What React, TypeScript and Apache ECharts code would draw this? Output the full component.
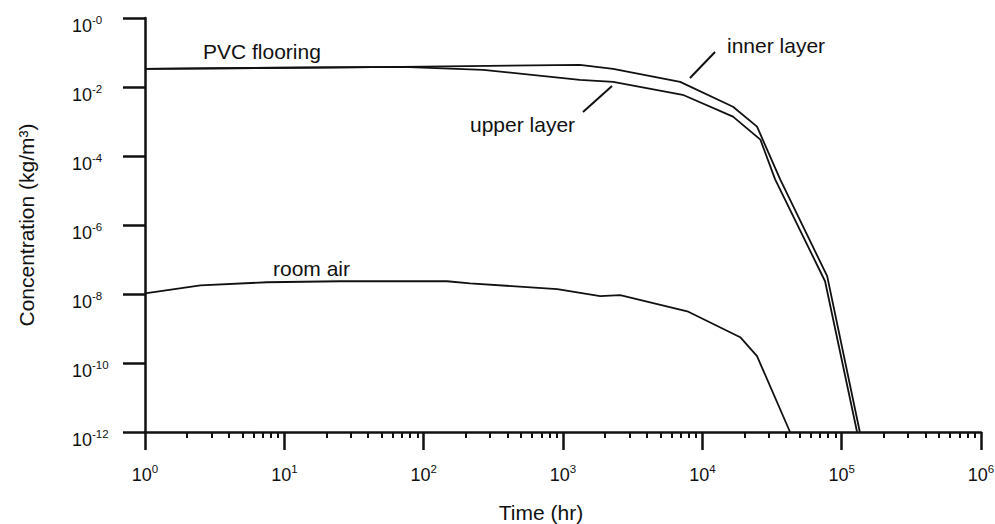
import React, { useEffect, useRef } from "react";
import * as echarts from "echarts";

// ---- data ----
const roomAirTime = [1, 2.5, 7.5, 25, 147, 215, 910, 1850, 2570, 7800, 18700, 24700, 42600];
const roomAirConc = [1.05e-8, 1.78e-8, 2.19e-8, 2.34e-8, 2.34e-8, 2.04e-8, 1.38e-8, 8.7e-9, 9.3e-9, 3.16e-9, 5.6e-10, 1.58e-10, 1e-12];

const innerTime = [1, 70, 1320, 2290, 6930, 16600, 24700, 36200, 78700, 135000];
const innerConc = [0.0336, 0.0384, 0.0438, 0.0336, 0.0141, 2.68e-3, 7.1e-4, 2.1e-5, 3.3e-8, 1e-12];

const upperTime = [1, 70, 268, 1320, 2290, 7230, 16600, 26100, 33300, 76000, 129000];
const upperConc = [0.0336, 0.0384, 0.0314, 0.0161, 0.0141, 5.95e-3, 1.38e-3, 2.98e-4, 2.1e-5, 2.34e-8, 1e-12];

const xDecades = [0, 1, 2, 3, 4, 5, 6];
const yDecades = [-12, -10, -8, -6, -4, -2, 0];
const minorMultipliers = [2, 3, 4, 5, 6, 7, 8, 9];

const FONT = "'Liberation Sans', Arial, Helvetica, sans-serif";

function toLogPairs(t: number[], c: number[]) {
  return t.map((v, i) => [Math.log10(v), Math.log10(c[i])]);
}

export default function App() {
  const ref = useRef<HTMLDivElement>(null);
  useEffect(() => {
    if (!ref.current) return;
    const chart = echarts.init(ref.current, null, { renderer: "svg" });
    const minorTicks: number[] = [];
    for (let n = xDecades[0]; n < xDecades[xDecades.length - 1]; n++) {
      for (const k of minorMultipliers) minorTicks.push(Math.log10(k) + n);
    }
    const lineStyle = { color: "#111", width: 1.8 };
    const rich = {
      b: { fontSize: 18, fontFamily: FONT, color: "#111", verticalAlign: "bottom" },
      s: { fontSize: 11.5, fontFamily: FONT, color: "#111", verticalAlign: "top", padding: [0, 0, 9, 0] },
    };
    const annText = (text: string, x: number, y: number) => ({
      type: "text",
      x,
      y,
      style: { text, fontSize: 21, fontFamily: FONT, fill: "#111", verticalAlign: "middle", align: "left" },
    });
    const annLine = (x1: number, y1: number, x2: number, y2: number) => ({
      type: "line",
      shape: { x1, y1, x2, y2 },
      style: { stroke: "#111", lineWidth: 2 },
    });
    const gridBox = { left: 145, right: 14, top: 18, bottom: 92, containLabel: false, outerBoundsMode: "none" };
    chart.setOption({
      animation: false,
      backgroundColor: "#fff",
      grid: [gridBox, { ...gridBox }],
      xAxis: [
        {
          type: "value",
          gridIndex: 0,
          min: xDecades[0],
          max: xDecades[xDecades.length - 1],
          interval: 1,
          position: "bottom",
          name: "Time (hr)",
          nameLocation: "middle",
          nameGap: 70,
          nameTextStyle: { fontSize: 21, fontFamily: FONT, color: "#111", padding: [0, 44, 0, 0] },
          axisLine: { show: true, onZero: false, lineStyle: { color: "#111", width: 2.5 } },
          axisTick: { show: true, inside: false, length: 18, lineStyle: { color: "#111", width: 2.5 } },
          axisLabel: {
            margin: 31,
            formatter: (v: number) => `{b|10}{s|${v}}`,
            rich,
          },
          splitLine: { show: false },
          z: 5,
        },
        {
          type: "value",
          gridIndex: 1,
          min: xDecades[0],
          max: xDecades[xDecades.length - 1],
          position: "bottom",
          axisLine: { show: false, onZero: false },
          axisTick: { show: true, inside: false, length: 6, customValues: minorTicks, lineStyle: { color: "#111", width: 2 } },
          axisLabel: { show: false },
          splitLine: { show: false },
        },
      ],
      yAxis: [
        {
          type: "value",
          gridIndex: 0,
          min: yDecades[0],
          max: yDecades[yDecades.length - 1],
          interval: 2,
          name: "Concentration (kg/m³)",
          nameLocation: "middle",
          nameGap: 108,
          nameRotate: 90,
          nameTextStyle: { fontSize: 21, fontFamily: FONT, color: "#111" },
          axisLine: { show: true, onZero: false, lineStyle: { color: "#111", width: 2.5 } },
          axisTick: { show: true, inside: false, length: 22, lineStyle: { color: "#111", width: 2.5 } },
          axisLabel: {
            margin: 73,
            align: "left",
            padding: [12, 0, 0, 0],
            formatter: (v: number) => `{b|10}{s|${v === 0 ? "-0" : v}}`,
            rich,
          },
          splitLine: { show: false },
        },
        {
          type: "value",
          gridIndex: 1,
          min: yDecades[0],
          max: yDecades[yDecades.length - 1],
          show: false,
        },
      ],
      series: [
        { name: "PVC flooring inner layer", type: "line", xAxisIndex: 0, yAxisIndex: 0, data: toLogPairs(innerTime, innerConc), showSymbol: false, lineStyle, itemStyle: { color: "#111" } },
        { name: "PVC flooring upper layer", type: "line", xAxisIndex: 0, yAxisIndex: 0, data: toLogPairs(upperTime, upperConc), showSymbol: false, lineStyle, itemStyle: { color: "#111" } },
        { name: "room air", type: "line", xAxisIndex: 0, yAxisIndex: 0, data: toLogPairs(roomAirTime, roomAirConc), showSymbol: false, lineStyle, itemStyle: { color: "#111" } },
      ],
      graphic: [
        annText("PVC flooring", 203, 51),
        annText("room air", 273, 268),
        annText("inner layer", 727, 45),
        annText("upper layer", 470, 124),
        annLine(690, 78, 715, 52),
        annLine(583, 112, 612, 86),
      ],
    });
    return () => chart.dispose();
  }, []);
  return <div ref={ref} style={{ position: "fixed", left: 0, top: 0, width: 995, height: 524, background: "#fff" }} />;
}
